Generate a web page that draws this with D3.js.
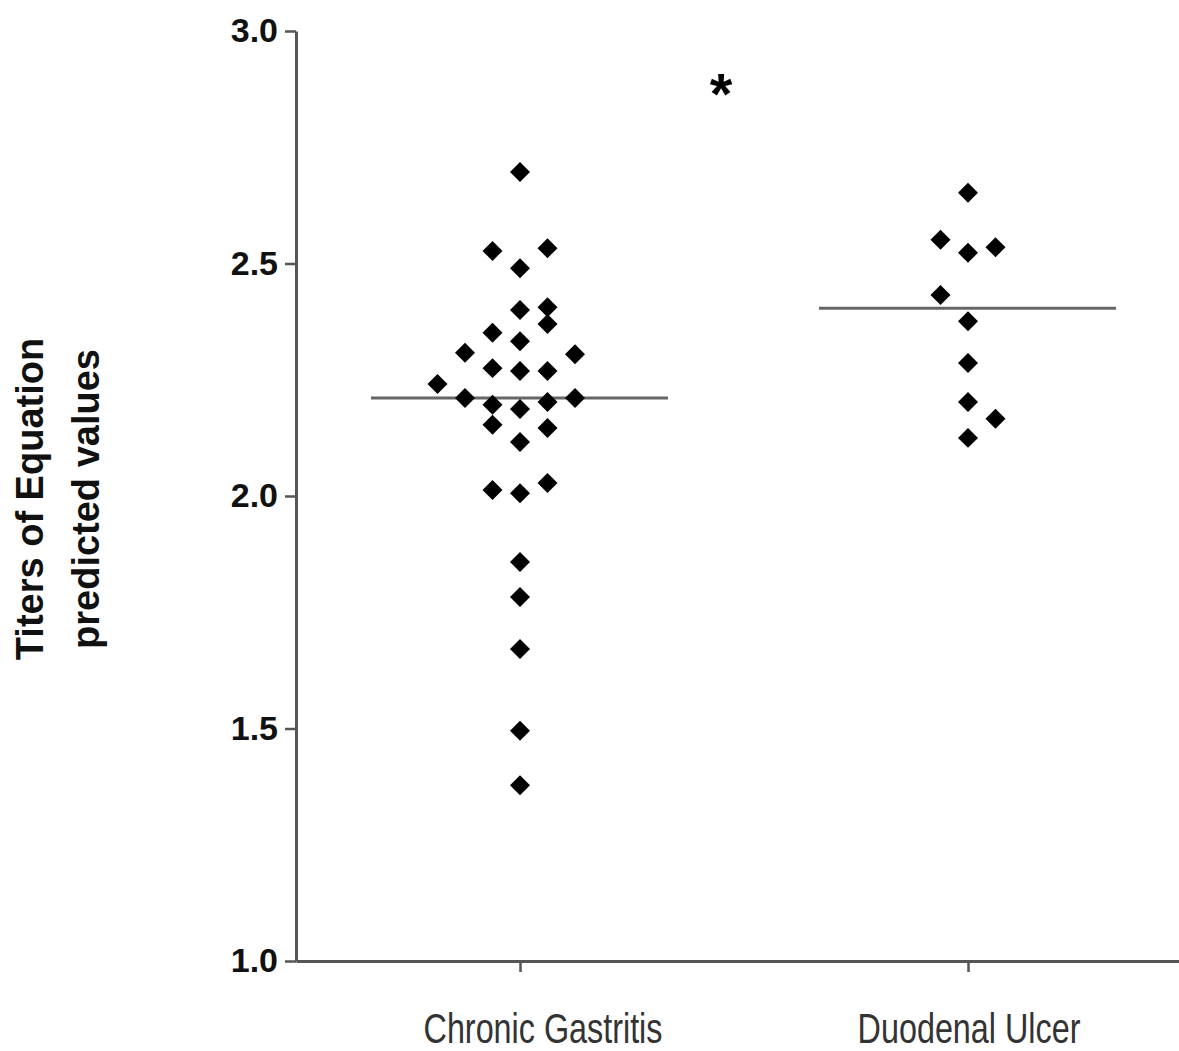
<!DOCTYPE html>
<html>
<head>
<meta charset="utf-8">
<script src="https://cdn.jsdelivr.net/npm/d3@7"></script>
<style>
  body { margin: 0; background: #fff; }
  svg { display: block; }
</style>
</head>
<body>
<div id="chartcontainer"></div>
<script>
// *****************************************************************************
// Data
// *****************************************************************************
var categories = ["Chronic Gastritis", "Duodenal Ulcer"];

var gastritisValues = [2.697, 2.533, 2.527, 2.490, 2.406, 2.400, 2.370, 2.351, 2.333,
	2.308, 2.305, 2.275, 2.269, 2.269, 2.241, 2.211, 2.211, 2.202, 2.196, 2.187,
	2.153, 2.146, 2.116, 2.028, 2.013, 2.006, 1.858, 1.783, 1.671, 1.495, 1.378];
// column of each point in the scatter (0 = centre, -1 left, +1 right ...)
var gastritisSlots = [0, 1, -1, 0, 1, 0, 1, -1, 0,
	-2, 2, -1, 0, 1, -3, -2, 2, 1, -1, 0,
	-1, 1, 0, 1, -1, 0, 0, 0, 0, 0, 0];

var ulcerValues = [2.652, 2.551, 2.535, 2.523, 2.432, 2.376, 2.286, 2.202, 2.166, 2.125];
var ulcerSlots  = [0, -1, 1, 0, -1, 0, 0, 0, 1, 0];

var medians = [2.211, 2.404];

var yTicks = [1.0, 1.5, 2.0, 2.5, 3.0];
var yDomain = [1.0, 3.0];
var yLabelLines = ["Titers of Equation", "predicted values"];
var significance = "*";

// *****************************************************************************
// Build the chart
// *****************************************************************************
var w = 1179, h = 1051;

var svg = d3.select("#chartcontainer")
	.append("svg")
	.attr("width", w)
	.attr("height", h);

var y = d3.scaleLinear()
	.domain(yDomain)
	.range([961, 31]);

var x = d3.scalePoint()
	.domain(categories)
	.range([296, 1192])
	.padding(0.5);

var slot = d3.scaleLinear()
	.domain([-1, 1])
	.range([-27.5, 27.5]);

var axisColor = "#555";

// y axis
var yAxis = svg.append("g")
	.attr("transform", "translate(296,0)")
	.call(d3.axisLeft(y).tickValues(yTicks).tickFormat(d3.format(".1f")).tickSize(11).tickSizeOuter(0).tickPadding(7));

yAxis.select(".domain").attr("stroke", axisColor).attr("stroke-width", 3);
yAxis.selectAll(".tick line").attr("stroke", axisColor).attr("stroke-width", 2.5);
yAxis.selectAll(".tick text")
	.attr("fill", "#111")
	.attr("font-family", "Liberation Sans, Arial, sans-serif")
	.attr("font-weight", "bold")
	.attr("font-size", "34px");

// x axis
var xAxis = svg.append("g")
	.attr("transform", "translate(0,961)")
	.call(d3.axisBottom(x).tickSize(11).tickSizeOuter(0).tickFormat(""));

xAxis.select(".domain").attr("stroke", axisColor).attr("stroke-width", 3);
xAxis.selectAll(".tick line").attr("stroke", axisColor).attr("stroke-width", 2.5);

// category labels (narrow looking font in the original)
svg.selectAll("text.cat")
	.data(categories)
	.enter()
	.append("text")
	.attr("class", "cat")
	.attr("transform", function(d, i) {
		var cx = x(d) + (i == 0 ? 23 : 1);
		return "translate(" + cx + ",1043) scale(0.77,1)";
	})
	.attr("text-anchor", "middle")
	.attr("font-family", "Liberation Sans, Arial, sans-serif")
	.attr("font-size", "42px")
	.attr("fill", "#333")
	.text(function(d) { return d; });

// y label, two lines rotated
svg.selectAll("text.ylab")
	.data(yLabelLines)
	.enter()
	.append("text")
	.attr("class", "ylab")
	.attr("transform", function(d, i) { return "translate(" + (43 + i * 56) + ",499) rotate(-90)"; })
	.attr("text-anchor", "middle")
	.attr("font-family", "Liberation Sans, Arial, sans-serif")
	.attr("font-weight", "bold")
	.attr("font-size", "38px")
	.attr("fill", "#111")
	.text(function(d) { return d; });

// median lines
svg.selectAll("line.median")
	.data(medians)
	.enter()
	.append("line")
	.attr("class", "median")
	.attr("x1", function(d, i) { return x(categories[i]) - 149; })
	.attr("x2", function(d, i) { return x(categories[i]) + 148; })
	.attr("y1", function(d) { return y(d); })
	.attr("y2", function(d) { return y(d); })
	.attr("stroke", "#666")
	.attr("stroke-width", 3);

// points
var groups = [
	{ cat: categories[0], values: gastritisValues, slots: gastritisSlots },
	{ cat: categories[1], values: ulcerValues, slots: ulcerSlots }
];

var diamond = d3.symbol().type(d3.symbolSquare).size(200);

groups.forEach(function(g) {
	var pts = g.values.map(function(v, i) { return [v, g.slots[i]]; });
	svg.append("g").selectAll("path")
		.data(pts)
		.enter()
		.append("path")
		.attr("d", diamond)
		.attr("transform", function(d) {
			return "translate(" + (x(g.cat) + slot(d[1])) + "," + y(d[0]) + ") rotate(45)";
		})
		.attr("fill", "#000");
});

// significance mark
svg.append("text")
	.attr("x", (x(categories[0]) + x(categories[1])) / 2 - 23)
	.attr("y", 114)
	.attr("text-anchor", "middle")
	.attr("font-family", "Liberation Sans, Arial, sans-serif")
	.attr("font-weight", "bold")
	.attr("font-size", "58px")
	.attr("fill", "#000")
	.text(significance);
</script>
</body>
</html>
